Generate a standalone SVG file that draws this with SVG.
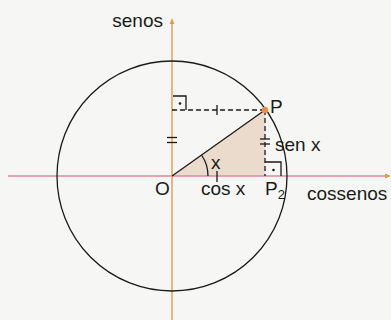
<svg xmlns="http://www.w3.org/2000/svg" width="391" height="320" viewBox="0 0 391 320">
<style>
text{font-family:"Liberation Sans",Arial,sans-serif;font-size:19px;fill:#1a1a1a}
.ln{stroke:#1a1a1a;stroke-width:1.3;fill:none}
.dash{stroke:#1a1a1a;stroke-width:1.3;stroke-dasharray:5 3;fill:none}
</style>
<defs>
<marker id="ah" viewBox="0 0 10 10" refX="5" refY="5" markerWidth="4" markerHeight="4" orient="auto">
<path d="M0,1 L10,5 L0,9 z" fill="#e09a50"/>
</marker>
</defs>
<rect width="391" height="320" fill="#f6f6f4"/>
<g id="triangle">
<path d="M172,176 L265,110 L265,176 z" fill="#eadbcd"/>
</g>
<g id="axes">
<line x1="8" y1="176" x2="388" y2="176" stroke="#d98a9a" stroke-width="1.5" marker-end="url(#ah)"/>
<line x1="172" y1="320" x2="172" y2="21" stroke="#e0a060" stroke-width="1.5" marker-end="url(#ah)"/>
</g>
<g id="circle">
<circle cx="172" cy="176" r="115" class="ln"/>
</g>
<g id="connectors">
<line x1="172" y1="176" x2="265" y2="110" class="ln" stroke-width="1.5"/>
<line x1="172" y1="110" x2="265" y2="110" class="dash"/>
<line x1="265" y1="110" x2="265" y2="176" class="dash"/>
<path d="M208,176 A36,36 0 0 0 201.5,155" class="ln"/>
<line x1="217" y1="105" x2="217" y2="115" class="ln"/>
<line x1="217" y1="171" x2="217" y2="182" class="ln"/>
<line x1="167" y1="137.5" x2="177" y2="137.5" class="ln"/>
<line x1="167" y1="142.5" x2="177" y2="142.5" class="ln"/>
<line x1="260" y1="139" x2="270" y2="139" class="ln"/>
<line x1="260" y1="144" x2="270" y2="144" class="ln"/>
<path d="M173,96 L186,96 L186,110" class="ln"/>
<circle cx="180" cy="103.5" r="1.3" fill="#1a1a1a"/>
<path d="M265,162 L281,162 L281,176" class="ln"/>
<circle cx="273.5" cy="170" r="1.3" fill="#1a1a1a"/>
</g>
<g id="P">
<circle cx="265" cy="110" r="3.2" fill="#e8904a"/>
<text x="270" y="113" font-size="20">P</text>
</g>
<g id="labels">
<text x="163" y="27" text-anchor="end">senos</text>
<text x="155" y="195">O</text>
<text x="201" y="195">cos x</text>
<text x="265" y="195">P<tspan font-size="13" dy="4">2</tspan></text>
<text x="307" y="200">cossenos</text>
<text x="275" y="151">sen x</text>
<text x="211" y="169" font-size="20">x</text>
</g>
</svg>
